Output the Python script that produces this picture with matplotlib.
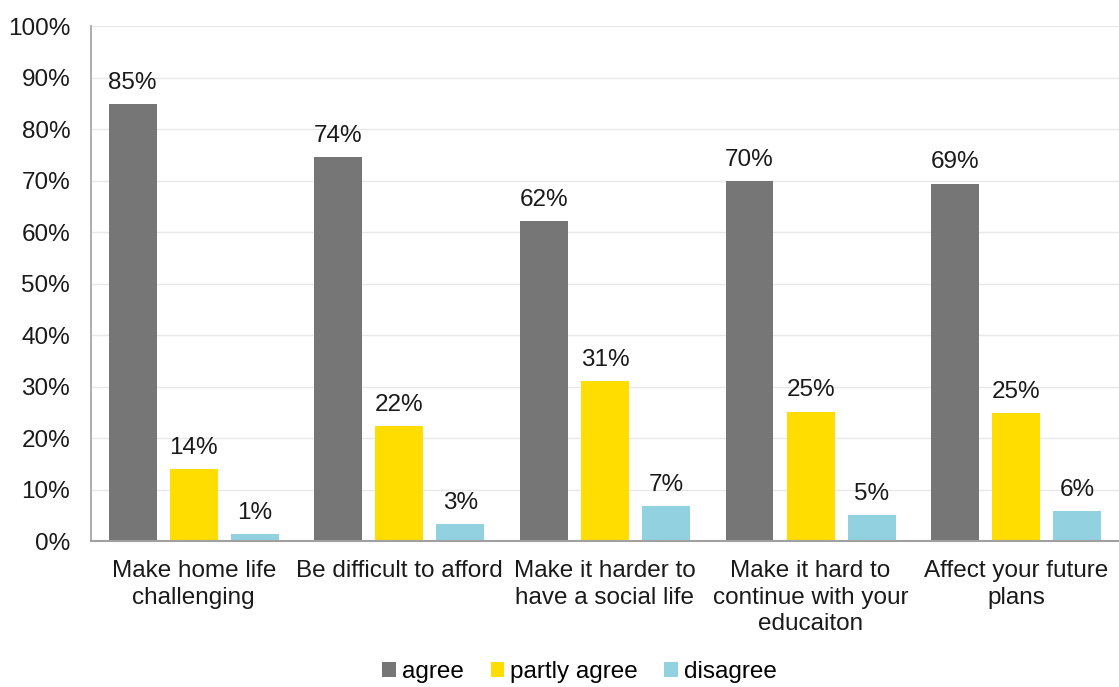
import matplotlib
matplotlib.use("Agg")
import matplotlib.pyplot as plt
import numpy as np

plt.rcParams['font.family'] = ['Liberation Sans', 'DejaVu Sans']

categories = ["Make home life\nchallenging", "Be difficult to afford", "Make it harder to\nhave a social life",
              "Make it hard to\ncontinue with your\neducaiton", "Affect your future\nplans"]
series_names = ["agree", "partly agree", "disagree"]
agree = [84.9, 74.5, 62.1, 69.9, 69.4]
partly = [14.0, 22.3, 31.1, 25.1, 24.9]
disagree = [1.4, 3.3, 6.8, 5.0, 5.8]
colors = ["#767676", "#FFDD00", "#92D1E0"]

FS = 17.5

fig = plt.figure(figsize=(11.19, 6.87), dpi=100)
ax = fig.add_axes([0.0813, 0.2125, 0.9187, 0.7495])

x = np.arange(len(categories))
w = 0.233
off = 0.297
for i, (vals, name, c) in enumerate(zip([agree, partly, disagree], series_names, colors)):
    pos = x + (i - 1) * off
    ax.bar(pos, vals, w, color=c, label=name, zorder=2)
    for p, v in zip(pos, vals):
        ax.text(p, v + 2.0, f"{round(v):d}%", ha='center', va='bottom', fontsize=FS, color='#1a1a1a')

ax.set_xlim(-0.5, len(categories) - 0.5)
ax.set_ylim(0, 100)
ax.set_yticks(np.arange(0, 101, 10))
ax.set_yticklabels([f"{v}%" for v in range(0, 101, 10)], fontsize=FS)
ax.set_xticks(x)
ax.set_xticklabels(categories, fontsize=FS, linespacing=1.25)
ax.tick_params(axis='x', length=0, pad=14, colors='#1a1a1a')
ax.tick_params(axis='y', length=0, pad=15, colors='#1a1a1a')
ax.grid(axis='y', color='#e8e8e8', linewidth=1, zorder=0)
ax.set_axisbelow(True)
for s in ['top', 'right']:
    ax.spines[s].set_visible(False)
ax.spines['left'].set_color('#a0a0a0')
ax.spines['bottom'].set_color('#a0a0a0')
ax.spines['left'].set_linewidth(1.2)
ax.spines['bottom'].set_linewidth(1.5)

fig.legend(loc='lower center', bbox_to_anchor=(0.518, -0.026), ncol=3, frameon=False, fontsize=FS,
           handlelength=0.55, handleheight=0.55, handletextpad=0.25, columnspacing=1.1)

fig.savefig("out.png", dpi=100)
